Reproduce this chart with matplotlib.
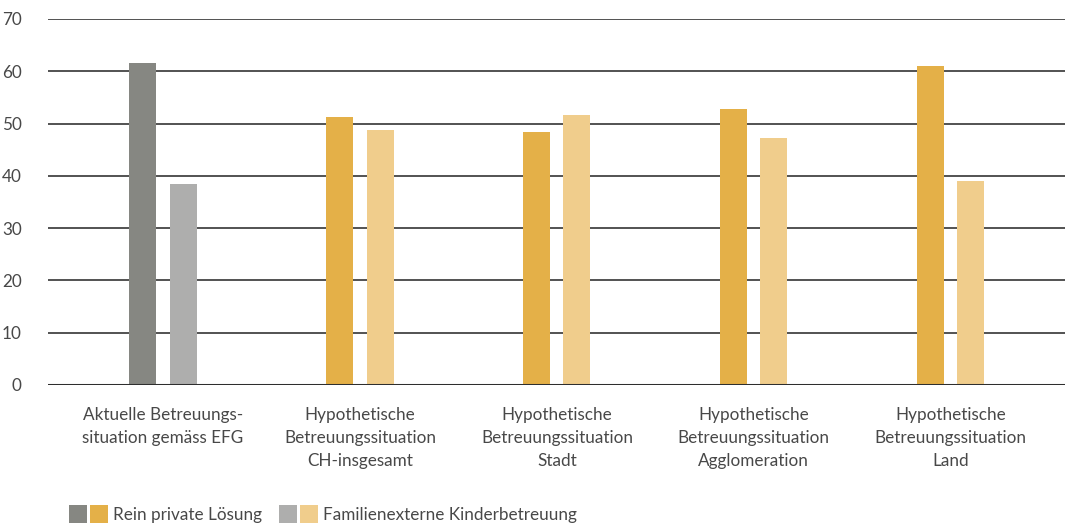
import numpy as np
import matplotlib.pyplot as plt
from matplotlib.patches import Rectangle

plt.rcParams['font.family'] = ['Lato', 'DejaVu Sans']

groups = ['Aktuelle Betreuungs-\nsituation gemäss EFG',
          'Hypothetische\nBetreuungssituation\nCH-insgesamt',
          'Hypothetische\nBetreuungssituation\nStadt',
          'Hypothetische\nBetreuungssituation\nAgglomeration',
          'Hypothetische\nBetreuungssituation\nLand']
privat = [61.6, 51.2, 48.4, 52.8, 61.0]
extern = [38.4, 48.8, 51.6, 47.2, 39.0]
legend_labels = ['Rein private Lösung', 'Familienexterne Kinderbetreuung']

col_priv = ['#868782'] + ['#E4B048'] * 4
col_ext = ['#AEAEAD'] + ['#F0CD8C'] * 4
text_col = '#484848'
fs = 12.3

fig = plt.figure(figsize=(10.78, 5.23), dpi=100)
ax = fig.add_axes([48 / 1078, 0.264, (1065 - 48) / 1078, 0.6997])

x = np.arange(len(groups))
w = 0.137
off = 0.102
ax.bar(x - off, privat, width=w, color=col_priv, zorder=3)
ax.bar(x + off, extern, width=w, color=col_ext, zorder=3)

ax.set_xlim(-0.584, 4.58)
ax.set_ylim(0, 70)
ax.set_yticks(range(0, 71, 10))
ax.yaxis.grid(True, color='#444444', linewidth=1.3, zorder=1)
ax.axhline(0, color='#2e2e2e', linewidth=2.2, zorder=4)
for s in ax.spines.values():
    s.set_visible(False)
ax.tick_params(axis='y', length=0, pad=19, labelsize=fs, labelcolor=text_col)
ax.tick_params(axis='x', length=0, pad=16, labelsize=fs, labelcolor=text_col)
ax.set_xticks(x)
ax.set_xticklabels(groups, linespacing=1.55)

# legend: paired squares
W, H = 1078, 523
sq = 18
ypos = 0
for x0, cols, label in [(69, ['#868782', '#E4B048'], legend_labels[0]),
                        (279, ['#AEAEAD', '#F0CD8C'], legend_labels[1])]:
    for i, c in enumerate(cols):
        fig.add_artist(Rectangle(((x0 + i * 21) / W, ypos / H), sq / W, sq / H,
                                 transform=fig.transFigure, color=c, lw=0))
    fig.text((x0 + 44) / W, (ypos + sq / 2 - 1) / H, label, fontsize=fs,
             color=text_col, va='center', ha='left')

fig.savefig('out.png', dpi=100)
